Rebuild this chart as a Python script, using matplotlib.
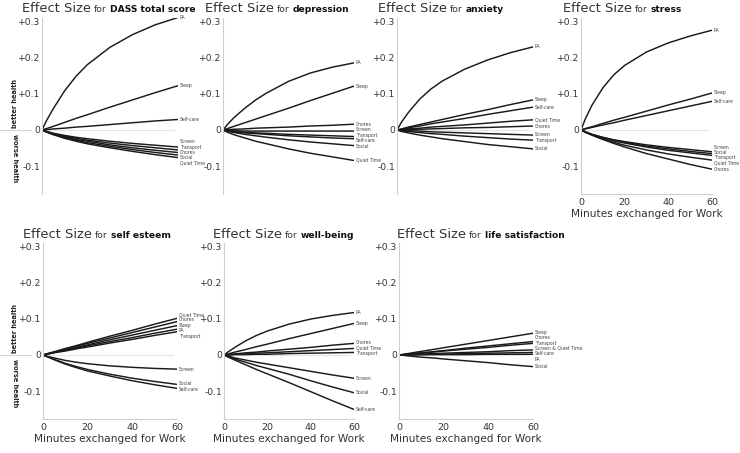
import matplotlib
matplotlib.use("Agg")
import matplotlib.pyplot as plt
import matplotlib.transforms as mtransforms
import numpy as np

plt.rcParams['font.family'] = ['DejaVu Sans']

# ---------------- data ----------------
minutes = [0, 2, 5, 10, 15, 20, 30, 40, 50, 60]

dass_names = ["PA", "Sleep", "Self-care", "Screen", "Transport", "Chores", "Social", "Quiet Time"]
dass_values = [
    [0, 0.026, 0.059, 0.108, 0.148, 0.180, 0.228, 0.263, 0.290, 0.310],
    [0, 0.004, 0.010, 0.021, 0.032, 0.042, 0.063, 0.083, 0.103, 0.122],
    [0, 0.001, 0.003, 0.005, 0.008, 0.010, 0.015, 0.020, 0.025, 0.029],
    [0, -0.004, -0.009, -0.015, -0.020, -0.024, -0.031, -0.037, -0.042, -0.047],
    [0, -0.004, -0.010, -0.017, -0.023, -0.028, -0.036, -0.043, -0.049, -0.055],
    [0, -0.005, -0.011, -0.019, -0.026, -0.031, -0.041, -0.049, -0.056, -0.062],
    [0, -0.005, -0.012, -0.021, -0.028, -0.035, -0.045, -0.054, -0.062, -0.069],
    [0, -0.006, -0.013, -0.023, -0.031, -0.038, -0.049, -0.059, -0.068, -0.076],
]

dep_names = ["PA", "Sleep", "Chores", "Screen", "Transport", "Self-care", "Social", "Quiet Time"]
dep_values = [
    [0, 0.015, 0.034, 0.060, 0.083, 0.102, 0.134, 0.157, 0.173, 0.185],
    [0, 0.004, 0.010, 0.020, 0.030, 0.040, 0.060, 0.081, 0.101, 0.121],
    [0, 0.001, 0.002, 0.003, 0.005, 0.006, 0.008, 0.011, 0.013, 0.016],
    [0, -0.001, -0.002, -0.003, -0.003, -0.003, -0.003, -0.003, -0.003, -0.003],
    [0, -0.002, -0.004, -0.006, -0.008, -0.009, -0.012, -0.014, -0.016, -0.018],
    [0, -0.002, -0.005, -0.008, -0.010, -0.012, -0.016, -0.019, -0.022, -0.024],
    [0, -0.003, -0.007, -0.012, -0.016, -0.020, -0.027, -0.033, -0.038, -0.043],
    [0, -0.006, -0.013, -0.022, -0.031, -0.038, -0.052, -0.064, -0.074, -0.084],
]

anx_names = ["PA", "Sleep", "Self-care", "Quiet Time", "Chores", "Screen", "Transport", "Social"]
anx_values = [
    [0, 0.022, 0.048, 0.085, 0.113, 0.135, 0.168, 0.193, 0.213, 0.229],
    [0, 0.003, 0.008, 0.015, 0.022, 0.029, 0.043, 0.056, 0.070, 0.083],
    [0, 0.002, 0.006, 0.011, 0.017, 0.022, 0.032, 0.043, 0.053, 0.063],
    [0, 0.001, 0.003, 0.005, 0.008, 0.010, 0.014, 0.019, 0.024, 0.028],
    [0, 0.000, 0.001, 0.002, 0.003, 0.004, 0.006, 0.007, 0.009, 0.011],
    [0, -0.001, -0.002, -0.003, -0.005, -0.006, -0.008, -0.010, -0.012, -0.014],
    [0, -0.002, -0.004, -0.007, -0.010, -0.012, -0.017, -0.021, -0.025, -0.028],
    [0, -0.004, -0.008, -0.014, -0.019, -0.024, -0.032, -0.040, -0.046, -0.052],
]

stress_names = ["PA", "Sleep", "Self-care", "Screen", "Social", "Transport", "Quiet Time", "Chores"]
stress_values = [
    [0, 0.031, 0.068, 0.116, 0.152, 0.178, 0.215, 0.240, 0.259, 0.275],
    [0, 0.004, 0.009, 0.018, 0.027, 0.035, 0.052, 0.069, 0.085, 0.102],
    [0, 0.003, 0.007, 0.014, 0.020, 0.027, 0.040, 0.053, 0.066, 0.079],
    [0, -0.005, -0.012, -0.020, -0.027, -0.032, -0.041, -0.048, -0.054, -0.060],
    [0, -0.005, -0.012, -0.021, -0.028, -0.034, -0.044, -0.052, -0.059, -0.065],
    [0, -0.006, -0.013, -0.022, -0.030, -0.036, -0.047, -0.056, -0.063, -0.070],
    [0, -0.006, -0.014, -0.025, -0.034, -0.042, -0.055, -0.066, -0.075, -0.083],
    [0, -0.006, -0.014, -0.026, -0.037, -0.047, -0.065, -0.080, -0.095, -0.108],
]

esteem_names = ["Quiet Time", "Chores", "Sleep", "PA", "Transport", "Screen", "Social", "Self-care"]
esteem_values = [
    [0, 0.004, 0.009, 0.018, 0.026, 0.035, 0.052, 0.068, 0.085, 0.101],
    [0, 0.003, 0.008, 0.016, 0.024, 0.032, 0.047, 0.062, 0.077, 0.092],
    [0, 0.003, 0.007, 0.014, 0.021, 0.028, 0.042, 0.055, 0.068, 0.081],
    [0, 0.003, 0.007, 0.013, 0.019, 0.025, 0.037, 0.048, 0.060, 0.071],
    [0, 0.002, 0.006, 0.011, 0.017, 0.022, 0.033, 0.043, 0.054, 0.064],
    [0, -0.004, -0.008, -0.015, -0.020, -0.024, -0.030, -0.034, -0.037, -0.039],
    [0, -0.005, -0.012, -0.023, -0.032, -0.040, -0.053, -0.064, -0.073, -0.081],
    [0, -0.005, -0.013, -0.025, -0.035, -0.044, -0.058, -0.071, -0.082, -0.092],
]

wb_names = ["PA", "Sleep", "Chores", "Quiet Time", "Transport", "Screen", "Social", "Self-care"]
wb_values = [
    [0, 0.009, 0.021, 0.039, 0.054, 0.066, 0.085, 0.099, 0.109, 0.117],
    [0, 0.003, 0.008, 0.015, 0.023, 0.030, 0.045, 0.059, 0.073, 0.087],
    [0, 0.001, 0.003, 0.006, 0.008, 0.011, 0.016, 0.021, 0.027, 0.032],
    [0, 0.001, 0.002, 0.003, 0.005, 0.006, 0.009, 0.012, 0.015, 0.018],
    [0, 0.000, 0.001, 0.001, 0.002, 0.002, 0.004, 0.005, 0.006, 0.007],
    [0, -0.003, -0.008, -0.014, -0.020, -0.025, -0.035, -0.045, -0.055, -0.064],
    [0, -0.004, -0.011, -0.020, -0.029, -0.037, -0.053, -0.071, -0.088, -0.104],
    [0, -0.006, -0.014, -0.027, -0.040, -0.052, -0.076, -0.101, -0.126, -0.150],
]

ls_names = ["Sleep", "Chores", "Transport", "Screen & Quiet Time", "Self-care", "PA", "Social"]
ls_values = [
    [0, 0.002, 0.005, 0.010, 0.015, 0.020, 0.030, 0.040, 0.050, 0.060],
    [0, 0.001, 0.003, 0.006, 0.009, 0.012, 0.019, 0.025, 0.031, 0.037],
    [0, 0.001, 0.003, 0.005, 0.008, 0.011, 0.016, 0.021, 0.027, 0.032],
    [0, 0.000, 0.001, 0.002, 0.004, 0.005, 0.007, 0.009, 0.012, 0.014],
    [0, 0.000, 0.001, 0.001, 0.002, 0.002, 0.004, 0.005, 0.006, 0.007],
    [0, 0.000, 0.000, 0.001, 0.001, 0.001, 0.001, 0.002, 0.002, 0.002],
    [0, -0.001, -0.003, -0.006, -0.008, -0.011, -0.016, -0.021, -0.027, -0.032],
]

outcomes = ["DASS total score", "depression", "anxiety", "stress",
            "self esteem", "well-being", "life satisfaction"]
yticks = [0.3, 0.2, 0.1, 0.0, -0.1]
ytick_labels = ["+0.3", "+0.2", "+0.1", "0", "-0.1"]
xticks = [0, 20, 40, 60]
xlabel = "Minutes exchanged for Work"

panel_data = [
    (dass_names, dass_values), (dep_names, dep_values), (anx_names, anx_values),
    (stress_names, stress_values), (esteem_names, esteem_values),
    (wb_names, wb_values), (ls_names, ls_values),
]

# ---------------- layout (pixels) ----------------
W, H = 740, 453
# (left px, width px, top px of axes, title x px, title baseline px, show x axis, side labels)
layout = [
    (42, 136, 17.5, 22, 12.5, False, True),
    (223, 131, 17.5, 205, 12.5, False, False),
    (397, 136, 17.5, 378, 12.5, False, False),
    (581, 131, 17.5, 563, 12.5, True, False),
    (43, 134, 242.5, 23, 238, True, True),
    (224, 130, 242.5, 213, 238, True, False),
    (399, 134, 242.5, 397, 238, True, False),
]
AX_H = 176
YLIM = (-0.175, 0.31)

fig = plt.figure(figsize=(W / 100, H / 100), dpi=100)
renderer = fig.canvas.get_renderer()

TXT = '#333333'
LINE = '#1a1a1a'
GRAY = '#cfcfcf'


def spread(vals, gap):
    vals = np.asarray(vals, dtype=float)
    order = list(np.argsort(-vals, kind='stable'))
    clusters = [[vals[i]] for i in order]

    def pos(cl):
        n = len(cl)
        top = np.mean(cl) + gap * (n - 1) / 2
        return [top - gap * k for k in range(n)]

    changed = True
    while changed:
        changed = False
        i = 0
        while i < len(clusters) - 1:
            if pos(clusters[i])[-1] - pos(clusters[i + 1])[0] < gap - 1e-12:
                clusters[i] = clusters[i] + clusters[i + 1]
                del clusters[i + 1]
                changed = True
            else:
                i += 1
    res = []
    for cl in clusters:
        res += pos(cl)
    out = np.empty(len(vals))
    out[order] = res
    return out


for k, (outcome, (names, values)) in enumerate(zip(outcomes, panel_data)):
    left, width, top, tx, tb, showx, side = layout[k]
    ax = fig.add_axes([left / W, (H - top - AX_H) / H, width / W, AX_H / H])
    ax.set_xlim(0, 60)
    ax.set_ylim(*YLIM)
    ax.patch.set_visible(False)
    for s in ['top', 'right']:
        ax.spines[s].set_visible(False)
    ax.spines['left'].set_color(GRAY)
    ax.spines['left'].set_linewidth(0.8)
    ax.set_yticks(yticks)
    ax.set_yticklabels(ytick_labels)
    ax.tick_params(axis='y', length=0, pad=1.5, labelsize=6.6, labelcolor=TXT)
    if showx:
        ax.spines['bottom'].set_color(GRAY)
        ax.spines['bottom'].set_linewidth(0.8)
        ax.set_xticks(xticks)
        ax.tick_params(axis='x', length=0, pad=3.5, labelsize=6.8, labelcolor=TXT)
        ax.set_xlabel(xlabel, fontsize=7.6, color=TXT, labelpad=1)
    else:
        ax.spines['bottom'].set_visible(False)
        ax.set_xticks([])

    ax.axhline(0, xmin=0, xmax=0.97, color='#e4e4e4', lw=0.8, zorder=0)

    for name, vals in zip(names, values):
        ax.plot(minutes, vals, color=LINE, lw=1.05, solid_capstyle='round',
                solid_joinstyle='round')

    ends = [v[-1] for v in values]
    lab_y = spread(ends, 0.0148)
    for name, y in zip(names, lab_y):
        ax.annotate(name, xy=(60, y), xytext=(1.3, 0), textcoords='offset points',
                    va='center', ha='left', fontsize=3.3, color='#444444',
                    annotation_clip=False)

    if side:
        bt = mtransforms.blended_transform_factory(ax.transAxes, ax.transData)
        ax.plot([-left / width, -(left - 31) / width], [0, 0], color='#d6d6d6',
                lw=0.8, transform=bt, clip_on=False)
        xs = -(left - 15) / width
        ax.text(xs, 0.072, "better health", rotation=90, transform=bt,
                ha='center', va='center', fontsize=4.8, color='#222222',
                fontweight='bold')
        ax.text(xs, -0.078, "worse health", rotation=270, transform=bt,
                ha='center', va='center', fontsize=4.8, color='#222222',
                fontweight='bold')

    # composite title
    yb = 1 - tb / H
    t1 = fig.text(tx / W, yb, "Effect Size", fontsize=9.4, color=TXT, va='baseline')
    bb = t1.get_window_extent(renderer)
    t2 = fig.text((bb.x1 + 3) / W, yb, "for", fontsize=6.6, color=TXT, va='baseline')
    bb2 = t2.get_window_extent(renderer)
    fig.text((bb2.x1 + 3) / W, yb, outcome, fontsize=6.6, color='#111111',
             fontweight='bold', va='baseline')

fig.savefig("out.png", dpi=100)
